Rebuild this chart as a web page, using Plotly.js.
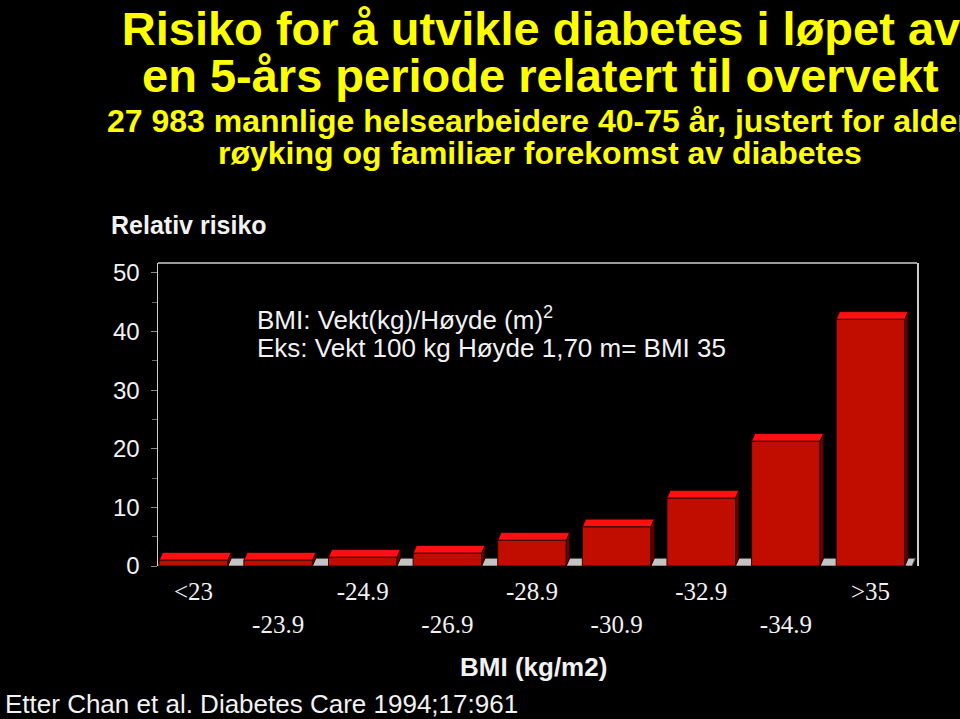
<!DOCTYPE html>
<html>
<head>
<meta charset="utf-8">
<script src="https://cdn.plot.ly/plotly-3.0.1.min.js"></script>
<style>
  html, body { margin: 0; padding: 0; background: #000; }
  #chart { width: 960px; height: 719px; }
</style>
</head>
<body>
<div id="chart"></div>
<script>
// ---- Data ----
const categories = ['<23', '-23.9', '-24.9', '-26.9', '-28.9', '-30.9', '-32.9', '-34.9', '>35'];
const relativeRisk = [1.0, 1.0, 1.5, 2.2, 4.4, 6.7, 11.6, 21.3, 42.1];
const yTickValues = [0, 10, 20, 30, 40, 50];

const titleLine1 = 'Risiko for å utvikle diabetes i løpet av';
const titleLine2 = 'en 5-års periode relatert til overvekt';
const subLine1 = '27 983 mannlige helsearbeidere 40-75 år, justert for alder';
const subLine2 = 'røyking og familiær forekomst av diabetes';
const yLabel = 'Relativ risiko';
const noteLine1 = 'BMI: Vekt(kg)/Høyde (m)<sup>2</sup>';
const noteLine2 = 'Eks: Vekt 100 kg Høyde 1,70 m= BMI 35';
const xLabel = 'BMI (kg/m2)';
const source = 'Etter Chan et al. Diabetes Care 1994;17:961';

// ---- Layout geometry ----
const W = 960, H = 719;
const M = { l: 158, r: 43, t: 263, b: 153 };
const plotW = W - M.l - M.r, plotH = H - M.t - M.b;
const xRange = [-0.42, 8.55];
const yRange = [0, 51.7];
const barW = 0.81;
const depthX = 0.04;   // 3D depth offset in x units
const depthY = 1.3;    // 3D depth offset in y units

const px2x = px => (px - M.l) / plotW;
const py2y = py => (H - M.b - py) / plotH;

const xIdx = categories.map((c, i) => i);
// alternate tick labels on two rows
const tickText = categories.map((c, i) => i % 2 === 0 ? c : '<br>' + c);

// top faces and side faces built from the data values
const topX = [], topY = [], sideX = [], sideY = [];
xIdx.forEach((x, i) => {
  const v = relativeRisk[i];
  const l = x - barW / 2, r = x + barW / 2;
  topX.push(l, l + depthX, r + depthX, r, l, null);
  topY.push(v, v + depthY, v + depthY, v, v, null);
  sideX.push(r, r + depthX, r + depthX, r, r, null);
  sideY.push(0, depthY, v + depthY, v, 0, null);
});

const traces = [
  {
    type: 'bar', x: xIdx, y: relativeRisk, width: barW,
    marker: { color: '#c00d00', line: { color: '#2a0000', width: 1 } },
    hoverinfo: 'skip', showlegend: false
  },
  {
    type: 'scatter', mode: 'lines', x: sideX, y: sideY, fill: 'toself',
    fillcolor: '#6a0000', line: { color: '#220000', width: 1 },
    hoverinfo: 'skip', showlegend: false
  },
  {
    type: 'scatter', mode: 'lines', x: topX, y: topY, fill: 'toself',
    fillcolor: '#ff1010', line: { color: '#300000', width: 1 },
    hoverinfo: 'skip', showlegend: false
  }
];

const whiteFont = (size, bold, fam) => ({
  family: fam || 'Liberation Sans, Arial, sans-serif', size: size,
  color: '#f2f2f2', weight: bold ? 'bold' : 'normal'
});
const yellowFont = size => ({
  family: 'Liberation Sans, Arial, sans-serif', size: size, color: '#ffff00', weight: 'bold'
});

const floorPath = 'M ' + xRange[0] + ',0 L ' + (xRange[0] + depthX) + ',' + depthY +
  ' L ' + (xRange[1] - 0.02) + ',' + depthY + ' L ' + (xRange[1] - 0.02 - depthX) + ',0 Z';

const layout = {
  width: W, height: H,
  paper_bgcolor: '#000', plot_bgcolor: '#000',
  margin: M,
  showlegend: false,
  title: {
    text: titleLine1, font: yellowFont(47),
    xref: 'container', x: 541 / W, xanchor: 'center',
    yref: 'container', y: 1 - 12 / H, yanchor: 'top'
  },
  xaxis: {
    range: xRange, tickvals: xIdx, ticktext: tickText,
    showgrid: false, zeroline: false, showline: false, ticks: '',
    ticklabelstandoff: 8,
    tickfont: { family: 'Liberation Serif, Times New Roman, serif', size: 25, color: '#f2f2f2' },
    fixedrange: true
  },
  yaxis: {
    range: yRange, tickvals: yTickValues,
    showgrid: false, zeroline: false,
    showline: true, linecolor: '#cfcfcf', linewidth: 1.5, mirror: true,
    ticks: 'outside', ticklen: 6, tickcolor: '#8a8a8a', tickwidth: 1,
    minor: { dtick: 5, ticks: 'outside', ticklen: 5, tickcolor: '#6a6a6a' },
    ticklabelstandoff: 6,
    tickfont: whiteFont(24, false),
    fixedrange: true
  },
  shapes: [
    { type: 'path', xref: 'x', yref: 'y', path: floorPath, layer: 'below',
      fillcolor: '#c4c4c4', line: { color: '#555', width: 1 } },
    { type: 'line', xref: 'paper', yref: 'paper', x0: 0, x1: 1, y0: 1, y1: 1,
      line: { color: '#cfcfcf', width: 1.5 } }
  ],
  annotations: [
    { text: titleLine2, font: yellowFont(47), xref: 'paper', yref: 'paper',
      x: px2x(540), y: py2y(75), xanchor: 'center', yanchor: 'middle', showarrow: false },
    { text: subLine1, font: yellowFont(32), xref: 'paper', yref: 'paper',
      x: px2x(538), y: py2y(121), xanchor: 'center', yanchor: 'middle', showarrow: false },
    { text: subLine2, font: yellowFont(32), xref: 'paper', yref: 'paper',
      x: px2x(540), y: py2y(153), xanchor: 'center', yanchor: 'middle', showarrow: false },
    { text: yLabel, font: whiteFont(25, true), xref: 'paper', yref: 'paper',
      x: px2x(109), y: py2y(225), xanchor: 'left', yanchor: 'middle', showarrow: false },
    { text: noteLine1, font: whiteFont(26, false), xref: 'paper', yref: 'paper',
      x: px2x(255), y: py2y(318), xanchor: 'left', yanchor: 'middle', showarrow: false },
    { text: noteLine2, font: whiteFont(26, false), xref: 'paper', yref: 'paper',
      x: px2x(255), y: py2y(348), xanchor: 'left', yanchor: 'middle', showarrow: false },
    { text: xLabel, font: whiteFont(26, true), xref: 'paper', yref: 'paper',
      x: px2x(533), y: py2y(667), xanchor: 'center', yanchor: 'middle', showarrow: false },
    { text: source, font: whiteFont(26, false), xref: 'paper', yref: 'paper',
      x: px2x(3), y: py2y(704), xanchor: 'left', yanchor: 'middle', showarrow: false }
  ]
};

Plotly.newPlot('chart', traces, layout, { staticPlot: true, displayModeBar: false });
</script>
</body>
</html>
